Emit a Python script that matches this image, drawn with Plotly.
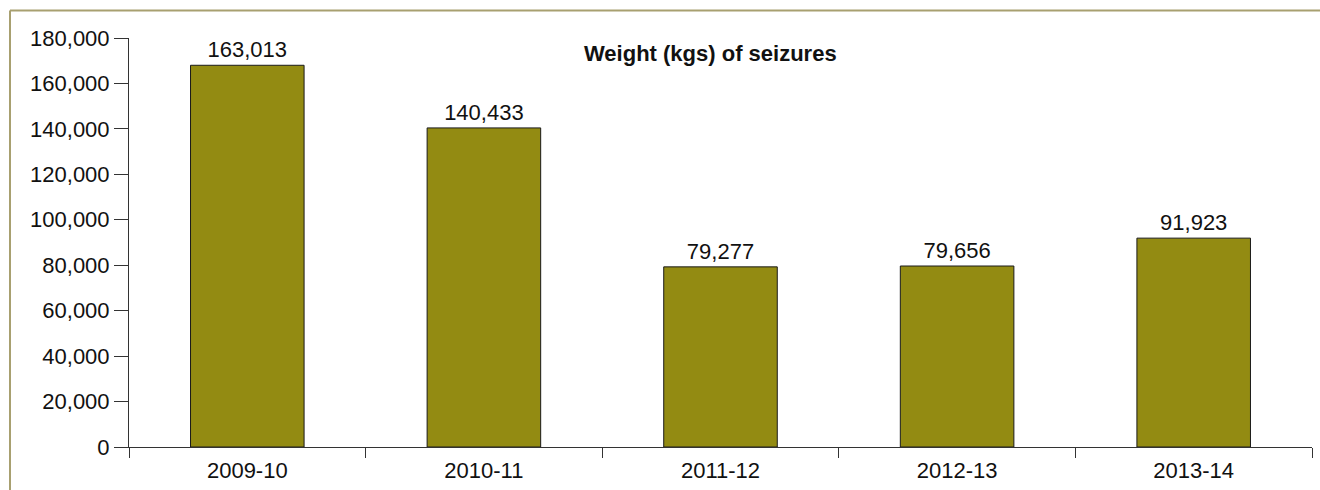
import plotly.graph_objects as go

categories = ["2009-10", "2010-11", "2011-12", "2012-13", "2013-14"]
bar_heights = [168000, 140433, 79277, 79656, 91923]
bar_labels = ["163,013", "140,433", "79,277", "79,656", "91,923"]
title_text = "Weight (kgs) of seizures"

FONT = "Liberation Sans, Arial, sans-serif"

fig = go.Figure()
fig.add_trace(go.Bar(
    x=categories, y=bar_heights, text=bar_labels,
    textposition="outside", cliponaxis=False,
    textfont=dict(family=FONT, size=22, color="#111"),
    marker=dict(color="#938b12", line=dict(color="#1a1a1a", width=1)),
    width=0.48,
))

W, H = 1320, 490
ml, mr, mt, mb = 129, 8, 38, 43
pw, ph = W - ml - mr, H - mt - mb
bx = (10 - ml) / pw
by = (H - mb - 10.5) / ph
border = "#a8a070"
fig.add_shape(type="line", xref="paper", yref="paper", x0=bx, x1=1.2, y0=by, y1=by,
              line=dict(color=border, width=2))
fig.add_shape(type="line", xref="paper", yref="paper", x0=bx, x1=bx, y0=-0.3, y1=by,
              line=dict(color=border, width=2))

fig.add_annotation(text="<b>" + title_text + "</b>", xref="paper", yref="paper",
                   x=(710 - ml) / pw, y=(H - mb - 53) / ph, showarrow=False,
                   xanchor="center", yanchor="middle",
                   font=dict(family=FONT, size=22, color="#111"))

fig.update_layout(
    width=W, height=H, margin=dict(l=ml, r=mr, t=mt, b=mb, autoexpand=False),
    plot_bgcolor="white", paper_bgcolor="white", showlegend=False,
    font=dict(family=FONT, size=22, color="#111"),
)
fig.update_xaxes(type="category", showline=True, linecolor="#333", linewidth=1, ticks="outside",
                 tickson="boundaries", ticklen=10, tickcolor="#333", showgrid=False,
                 tickfont=dict(size=22), automargin=False, ticklabelstandoff=4)
fig.update_yaxes(range=[0, 180000], dtick=20000, tickformat=",", showline=True,
                 linecolor="#333", linewidth=1, ticks="outside", ticklen=14,
                 tickcolor="#333", showgrid=False, zeroline=False,
                 tickfont=dict(size=22), automargin=False)

fig.write_html("out.html", config={"displayModeBar": False},
               post_script="document.body.style.margin='0';document.body.style.overflow='hidden';")
